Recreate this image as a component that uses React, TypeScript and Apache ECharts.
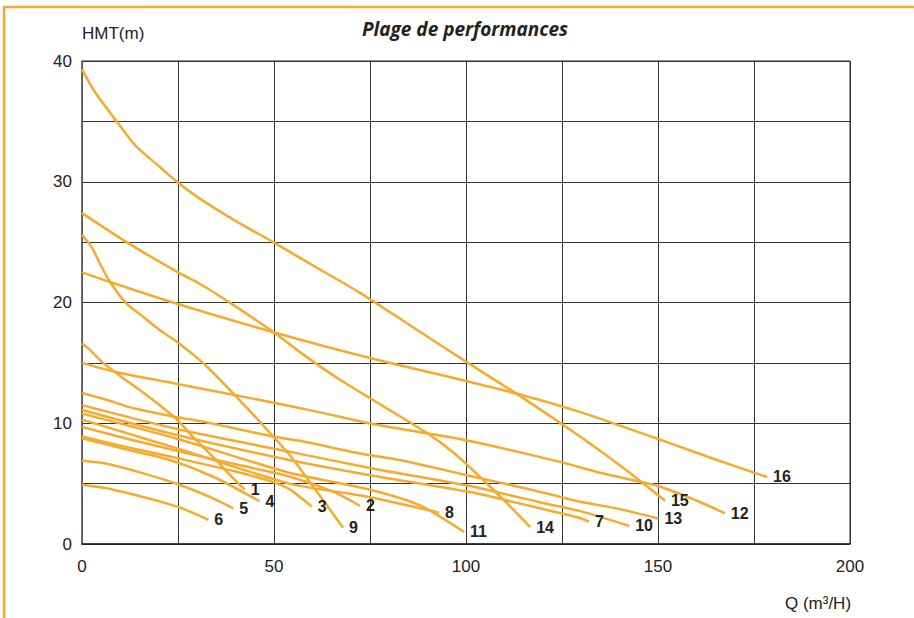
import { useEffect, useRef } from 'react';
import * as echarts from 'echarts';

type P = [number, number];

const curve1: P[] = [[0, 16.6], [2, 16.1], [5.5, 15], [10, 13.9], [15.3, 12.7], [19, 11.8], [24.7, 10.3], [30, 8.5], [34.2, 7.2], [38, 5.9], [42.4, 4.5]];
const curve2: P[] = [[0, 9.7], [12, 8.7], [25, 7.7], [40, 6.6], [54.2, 5.57], [65.4, 4.33], [72.4, 3.15]];
const curve3: P[] = [[0, 8.9], [12, 8.0], [25, 7.1], [40, 6.0], [50, 5.1], [54.2, 4.5], [59.8, 3.1]];
const curve4: P[] = [[0, 8.75], [12, 7.8], [22.9, 6.96], [34.2, 5.57], [46.2, 3.55]];
const curve5: P[] = [[0, 6.9], [5.5, 6.7], [16, 5.85], [24.8, 4.97], [33.3, 3.9], [39.4, 2.95]];
const curve6: P[] = [[0, 4.9], [8.2, 4.5], [24.8, 3.1], [32.9, 2.0]];
const curve7: P[] = [[0, 11.1], [25, 9.0], [54, 6.96], [75, 5.7], [101, 4.3], [120, 2.9], [129.7, 2.15], [132, 1.85]];
const curve8: P[] = [[0, 10.3], [25, 7.9], [54, 5.0], [74.7, 3.9], [93, 2.6]];
const curve9: P[] = [[0, 25.6], [2.5, 24.6], [5, 23], [7.3, 21.7], [11.6, 19.9], [16, 18.8], [20.3, 17.7], [24.7, 16.75], [31.6, 14.97], [41.1, 11.9], [49.8, 8.9], [55, 7], [60.2, 4.75], [68, 1.35]];
const curve10: P[] = [[0, 11.5], [25, 9.5], [54, 7.65], [75, 6.3], [101, 4.8], [120, 3.4], [130, 2.7], [142.5, 1.5]];
const curve11: P[] = [[0, 10.8], [25, 8.7], [54, 5.9], [75, 4.5], [88, 3.2], [99.5, 1.0]];
const curve12: P[] = [[0, 15], [9.4, 14.2], [24.2, 13.3], [37, 12.5], [50, 11.7], [62, 10.9], [74.7, 10], [100, 8.6], [124.5, 6.8], [134.9, 5.9], [150, 4.8], [160, 3.6], [167.4, 2.55]];
const curve13: P[] = [[0, 12.5], [6.8, 11.9], [11.6, 11.4], [15.5, 11.1], [24.8, 10.5], [32, 10.1], [49.8, 8.9], [56.8, 8.55], [72.4, 7.5], [82.8, 6.96], [100.2, 5.7], [117, 4.5], [129.7, 3.5], [139.2, 2.95], [150.1, 2.1]];
const curve14: P[] = [[0, 27.4], [11.6, 25], [24.7, 22.55], [31.2, 21.45], [38.1, 20.07], [50.3, 17.45], [58, 15.6], [67.2, 13.6], [78, 11.5], [89.8, 9.2], [97, 7.5], [104.5, 5.3], [110, 3.6], [116.7, 1.4]];
const curve15: P[] = [[0, 39.3], [3, 37.6], [6.4, 36.1], [9, 35], [14.2, 32.9], [20, 31.3], [24.7, 30], [30.7, 28.6], [40.3, 26.7], [49.8, 25], [60, 23.1], [72.4, 20.8], [85, 18.2], [100, 15.1], [114.8, 12.1], [129.7, 8.9], [141, 6.3], [151.8, 3.6]];
const curve16: P[] = [[0, 22.5], [7.3, 21.7], [24.7, 19.9], [50.3, 17.5], [75, 15.4], [100, 13.5], [115, 12.3], [130, 10.9], [150, 8.7], [165, 7], [178.4, 5.55]];

const curveNames = ['1', '2', '3', '4', '5', '6', '7', '8', '9', '10', '11', '12', '13', '14', '15', '16'];
const curveData = [curve1, curve2, curve3, curve4, curve5, curve6, curve7, curve8, curve9, curve10, curve11, curve12, curve13, curve14, curve15, curve16];

const xMin = 0, xMax = 200, xStep = 25, xLabelStep = 50;
const yMin = 0, yMax = 40, yStep = 5, yLabelStep = 10;

const titleText = 'Plage de performances';
const yName = 'HMT(m)';
const xName = 'Q (m³/H)';

const SANS = "'Liberation Sans', Arial, sans-serif";
const ORANGE = '#F8AA2C';

export default function App() {
  const ref = useRef<HTMLDivElement>(null);
  useEffect(() => {
    const chart = echarts.init(ref.current!, null, { renderer: 'svg' });
    chart.setOption({
      animation: false,
      backgroundColor: '#ffffff',
      grid: { left: 82, top: 61, width: 768, height: 483, show: true, borderColor: '#333', borderWidth: 1 },
      xAxis: {
        type: 'value', min: xMin, max: xMax, interval: xStep,
        axisLine: { show: true, lineStyle: { color: '#222', width: 1.5 } },
        axisTick: { show: false },
        axisLabel: {
          margin: 14, color: '#222', fontSize: 17, fontFamily: SANS,
          formatter: (v: number) => (v % xLabelStep === 0 ? String(v) : ''),
        },
        splitLine: { show: true, lineStyle: { color: '#333', width: 1 } },
      },
      yAxis: {
        type: 'value', min: yMin, max: yMax, interval: yStep,
        axisLine: { show: true, lineStyle: { color: '#666', width: 1.5 } },
        axisTick: { show: false },
        axisLabel: {
          margin: 10, color: '#222', fontSize: 17, fontFamily: SANS,
          formatter: (v: number) => (v % yLabelStep === 0 ? String(v) : ''),
        },
        splitLine: { show: true, lineStyle: { color: '#333', width: 1 } },
      },
      graphic: [
        { type: 'line', shape: { x1: 4, y1: 7, x2: 4, y2: 618 }, style: { stroke: '#F7A630', lineWidth: 2.5 } },
        { type: 'line', shape: { x1: 3, y1: 7, x2: 914, y2: 7 }, style: { stroke: '#F7A630', lineWidth: 2.5 } },
        { type: 'text', x: 465, y: 29, style: { text: titleText, fill: '#222', font: "italic bold 19px 'Open Sans', sans-serif", textAlign: 'center', textVerticalAlign: 'middle' } },
        { type: 'text', x: 82, y: 33, style: { text: yName, fill: '#222', font: `17px ${SANS}`, textAlign: 'left', textVerticalAlign: 'middle' } },
        { type: 'text', x: 818, y: 603, style: { text: xName, fill: '#222', font: `17px ${SANS}`, textAlign: 'center', textVerticalAlign: 'middle' } },
      ],
      series: curveData.map((d, i) => ({
        type: 'line',
        name: curveNames[i],
        data: d,
        smooth: 0.25,
        showSymbol: false,
        symbol: 'none',
        lineStyle: { color: ORANGE, width: 2.5 },
        endLabel: {
          show: true,
          formatter: curveNames[i],
          distance: 6,
          color: '#222',
          fontWeight: 'bold',
          fontSize: 16,
          fontFamily: SANS,
        },
        z: 3,
      })),
    });
    return () => chart.dispose();
  }, []);
  return <div ref={ref} style={{ position: 'fixed', left: 0, top: 0, width: 914, height: 618, background: '#fff' }} />;
}
